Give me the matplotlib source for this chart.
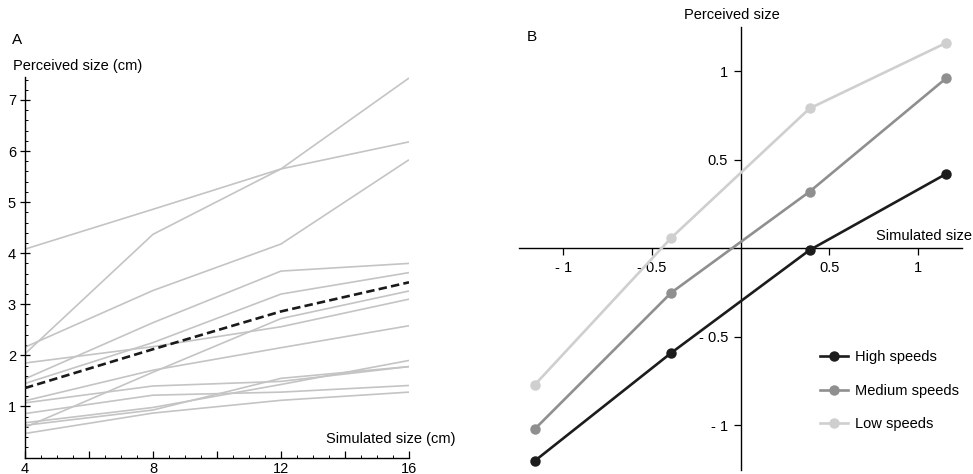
import matplotlib
matplotlib.use("Agg")
import matplotlib.pyplot as plt
from matplotlib.ticker import MultipleLocator, FixedLocator, FuncFormatter

plt.rcParams['font.family'] = ['Liberation Sans', 'DejaVu Sans']
plt.rcParams['font.size'] = 10

# ---------------- Panel A data ----------------
sim_sizes = [4, 8, 12, 16]
participants = [
    [4.08, 4.86, 5.65, 6.18],
    [2.03, 4.37, 5.65, 7.43],
    [2.16, 3.27, 4.18, 5.83],
    [1.54, 2.64, 3.65, 3.80],
    [1.45, 2.25, 3.20, 3.62],
    [1.85, 2.17, 2.56, 3.10],
    [0.59, 1.67, 2.72, 3.26],
    [1.11, 1.71, 2.15, 2.58],
    [1.07, 1.40, 1.49, 1.78],
    [0.86, 1.22, 1.28, 1.41],
    [0.68, 0.98, 1.43, 1.90],
    [0.63, 0.93, 1.55, 1.78],
    [0.47, 0.87, 1.12, 1.28],
]
mean_line = [1.36, 2.12, 2.86, 3.43]

# ---------------- Panel B data ----------------
sim_std = [-1.16, -0.39, 0.39, 1.16]
high_speeds = [-1.20, -0.59, -0.01, 0.42]
medium_speeds = [-1.02, -0.25, 0.32, 0.96]
low_speeds = [-0.77, 0.06, 0.79, 1.16]
series_labels = ["High speeds", "Medium speeds", "Low speeds"]
series_colors = ["#1c1c1c", "#8f8f8f", "#cfcfcf"]

W, H = 973, 474
fig = plt.figure(figsize=(W / 100, H / 100), dpi=100)

def fx(px):
    return px / W

def fy(py):
    return 1 - py / H

# ---------------- Panel A ----------------
axA = fig.add_axes([fx(25), fy(457.5), fx(409) - fx(25), fy(77) - fy(457.5)])
for p in participants:
    axA.plot(sim_sizes, p, color="#c4c4c4", lw=1.2, solid_capstyle="butt", zorder=2)
axA.plot(sim_sizes, mean_line, color="#1a1a1a", lw=1.9, ls=(0, (3.2, 1.6)), zorder=3)
axA.set_xlim(4, 16)
axA.set_ylim(0, 7.45)
for s in ["top", "right"]:
    axA.spines[s].set_visible(False)
for s in ["left", "bottom"]:
    axA.spines[s].set_linewidth(1.0)
axA.xaxis.set_major_locator(MultipleLocator(2))
axA.xaxis.set_minor_locator(MultipleLocator(0.5))
axA.xaxis.set_major_formatter(FuncFormatter(lambda v, pos: f"{int(v)}" if int(round(v)) % 4 == 0 else ""))
axA.yaxis.set_major_locator(FixedLocator([1, 2, 3, 4, 5, 6, 7]))
axA.yaxis.set_minor_locator(MultipleLocator(0.2))
axA.tick_params(which="major", direction="in", length=5, width=0.9, labelsize=10.5, pad=3)
axA.tick_params(which="minor", direction="in", length=2.5, width=0.7)
axA.tick_params(axis="y", which="major", direction="inout", length=7)
fig.text(fx(12), fy(40), "A", fontsize=11, va="center", ha="left")
fig.text(fx(13), fy(66), "Perceived size (cm)", fontsize=10.5, va="center", ha="left")
fig.text(fx(456), fy(439), "Simulated size (cm)", fontsize=10.5, va="center", ha="right")

# ---------------- Panel B ----------------
axB = fig.add_axes([fx(519), fy(469.6), fx(962) - fx(519), fy(27) - fy(469.6)])
for ys, lab, col in zip([high_speeds, medium_speeds, low_speeds], series_labels, series_colors):
    axB.plot(sim_std, ys, color=col, lw=1.9, marker="o", markersize=6.5, label=lab, zorder=3)
axB.set_xlim(-1.25, 1.25)
axB.set_ylim(-1.25, 1.25)
axB.spines["left"].set_position(("data", 0))
axB.spines["bottom"].set_position(("data", 0))
for s in ["top", "right"]:
    axB.spines[s].set_visible(False)
for s in ["left", "bottom"]:
    axB.spines[s].set_linewidth(1.0)
tick_vals = [-1, -0.5, 0.5, 1]
tick_labs = ["- 1", "- 0.5", "0.5", "1"]
axB.set_xticks(tick_vals)
axB.set_xticklabels(tick_labs)
axB.set_yticks(tick_vals)
axB.set_yticklabels(tick_labs)
axB.tick_params(direction="out", length=5, width=0.9, labelsize=10.5, pad=4)
fig.text(fx(527), fy(37), "B", fontsize=11, va="center", ha="left")
fig.text(fx(732), fy(15), "Perceived size", fontsize=10.5, va="center", ha="center")
fig.text(fx(972), fy(236), "Simulated size", fontsize=10.5, va="center", ha="right")

axB.legend(loc="upper left", bbox_to_anchor=(fx(820), fy(350)), bbox_transform=fig.transFigure,
           frameon=False, handlelength=1.9, handletextpad=0.5, labelspacing=1.35,
           fontsize=10.5, borderpad=0, borderaxespad=0)

fig.savefig("out.png", dpi=100)
